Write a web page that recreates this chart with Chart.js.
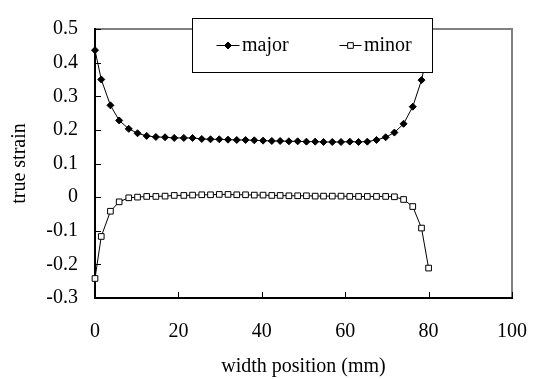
<!DOCTYPE html>
<html><head><meta charset="utf-8">
<script src="https://cdn.jsdelivr.net/npm/chart.js@4.4.0/dist/chart.umd.min.js"></script>
<style>html,body{margin:0;padding:0;background:#fff;overflow:hidden}#wrap{width:549px;height:379px;position:relative}</style>
</head><body><div id="wrap"><canvas id="c"></canvas></div>
<script>
const positions = [0, 1.5, 3.7, 5.8, 8.1, 10.2, 12.4, 14.6, 16.8, 19.0, 21.3, 23.4, 25.6, 27.7,
  29.8, 31.9, 34.0, 36.1, 38.2, 40.3, 42.4, 44.4, 46.5, 48.6, 50.7, 52.8, 54.8, 56.9, 59.0,
  61.1, 63.2, 65.3, 67.5, 69.7, 71.8, 74.0, 76.2, 78.3, 80.0];
const majorStrain = [0.437, 0.350, 0.273, 0.228, 0.203, 0.190, 0.182, 0.179, 0.178, 0.176, 0.176, 0.176, 0.173, 0.172,
  0.172, 0.171, 0.170, 0.170, 0.169, 0.168, 0.167, 0.167, 0.166, 0.166, 0.165, 0.165, 0.164, 0.164, 0.164,
  0.165, 0.164, 0.165, 0.170, 0.178, 0.192, 0.218, 0.269, 0.348, 0.442];
const minorStrain = [-0.242, -0.117, -0.042, -0.014, -0.002, 0.000, 0.002, 0.002, 0.003, 0.005, 0.005, 0.006, 0.007, 0.007,
  0.008, 0.008, 0.007, 0.007, 0.006, 0.006, 0.005, 0.005, 0.004, 0.004, 0.004, 0.003, 0.003, 0.003, 0.003,
  0.002, 0.002, 0.002, 0.002, 0.002, 0.001, -0.007, -0.028, -0.092, -0.211];
const seriesNames = ['major', 'minor'];
const xTickLabels = ['0', '20', '40', '60', '80', '100'];
const yTickLabels = ['-0.3', '-0.2', '-0.1', '0', '0.1', '0.2', '0.3', '0.4', '0.5'];
const xTitle = 'width position (mm)';
const yTitle = 'true strain';

const FONT = "'Liberation Serif', 'Times New Roman', serif";
const toPts = (ys) => ys.map((y, i) => ({x: positions[i], y}));

const framePlugin = {
  id: 'frame',
  beforeDatasetsDraw(chart) {
    const {ctx, chartArea: a, scales} = chart;
    ctx.save();
    ctx.lineWidth = 2;
    ctx.strokeStyle = '#808080';
    ctx.beginPath();
    ctx.moveTo(a.left, a.top); ctx.lineTo(a.right, a.top); ctx.lineTo(a.right, a.bottom);
    ctx.stroke();
    ctx.strokeStyle = '#000';
    ctx.beginPath();
    ctx.moveTo(a.left, a.top - 1); ctx.lineTo(a.left, a.bottom); ctx.lineTo(a.right + 1, a.bottom);
    ctx.stroke();
    ctx.lineWidth = 1;
    ctx.beginPath();
    scales.y.ticks.forEach(t => {
      const py = Math.round(scales.y.getPixelForValue(t.value)) + 0.5;
      ctx.moveTo(a.left, py); ctx.lineTo(a.left + 6, py);
    });
    scales.x.ticks.forEach(t => {
      const px = Math.round(scales.x.getPixelForValue(t.value)) + 0.5;
      ctx.moveTo(px, a.bottom); ctx.lineTo(px, a.bottom - 6);
    });
    ctx.stroke();
    ctx.restore();
  },
  afterDatasetsDraw(chart) {
    const {ctx} = chart;
    const box = {l: 192.5, t: 18.5, r: 432.5, b: 72.5};
    ctx.save();
    ctx.fillStyle = '#fff';
    ctx.fillRect(box.l, box.t, box.r - box.l, box.b - box.t);
    ctx.strokeStyle = '#000';
    ctx.lineWidth = 1;
    ctx.strokeRect(box.l, box.t, box.r - box.l, box.b - box.t);
    const cy = 45.5;
    const items = [{x0: 216.5, x1: 239.5, tx: 242}, {x0: 339.5, x1: 361.5, tx: 364}];
    chart.data.datasets.forEach((ds, i) => {
      const it = items[i];
      ctx.strokeStyle = ds.borderColor;
      ctx.lineWidth = ds.borderWidth;
      ctx.beginPath(); ctx.moveTo(it.x0, cy); ctx.lineTo(it.x1, cy); ctx.stroke();
      ctx.fillStyle = ds.pointBackgroundColor;
      ctx.strokeStyle = ds.pointBorderColor;
      ctx.lineWidth = ds.pointBorderWidth;
      Chart.helpers.drawPoint(ctx, {pointStyle: ds.pointStyle, radius: ds.pointRadius, rotation: 0, borderWidth: ds.pointBorderWidth}, (it.x0 + it.x1) / 2, cy);
      ctx.fillStyle = '#000';
      ctx.font = '20px ' + FONT;
      ctx.textBaseline = 'middle';
      ctx.textAlign = 'left';
      ctx.fillText(ds.label, it.tx, cy);
    });
    ctx.restore();
  }
};

new Chart(document.getElementById('c'), {
  type: 'line',
  data: {
    datasets: [
      {label: seriesNames[0], data: toPts(majorStrain), borderColor: '#000', borderWidth: 1,
       pointStyle: 'rectRot', pointRadius: 3.5, pointBackgroundColor: '#000', pointBorderColor: '#000', pointBorderWidth: 1,
       tension: 0, clip: false},
      {label: seriesNames[1], data: toPts(minorStrain), borderColor: '#000', borderWidth: 1,
       pointStyle: 'rect', pointRadius: 4, pointBackgroundColor: '#fff', pointBorderColor: '#000', pointBorderWidth: 1,
       tension: 0, clip: false}
    ]
  },
  options: {
    responsive: true, maintainAspectRatio: false, animation: false,
    devicePixelRatio: 1,
    layout: {padding: {left: 0, right: 20, top: 12, bottom: 0}},
    plugins: {legend: {display: false}, tooltip: {enabled: false}},
    scales: {
      x: {type: 'linear', min: 0, max: 100,
          afterFit(s) { s.height = 81; },
          grid: {display: false, drawTicks: false}, border: {display: false},
          ticks: {stepSize: 20, padding: 22, color: '#000', font: {family: FONT, size: 20},
                  callback: (v) => xTickLabels[Math.round(v / 20)]},
          title: {display: true, text: xTitle, color: '#000', font: {family: FONT, size: 20}, padding: {top: 0, bottom: 0}}},
      y: {type: 'linear', min: -0.3, max: 0.5,
          afterFit(s) { s.width = 95; },
          grid: {display: false, drawTicks: false}, border: {display: false},
          ticks: {stepSize: 0.1, padding: 17, color: '#000', font: {family: FONT, size: 20},
                  callback: (v) => yTickLabels[Math.round((v + 0.3) * 10)]},
          title: {display: true, text: yTitle, color: '#000', font: {family: FONT, size: 20}, padding: {top: 8, bottom: 0}}}
    }
  },
  plugins: [framePlugin]
});
</script></body></html>
